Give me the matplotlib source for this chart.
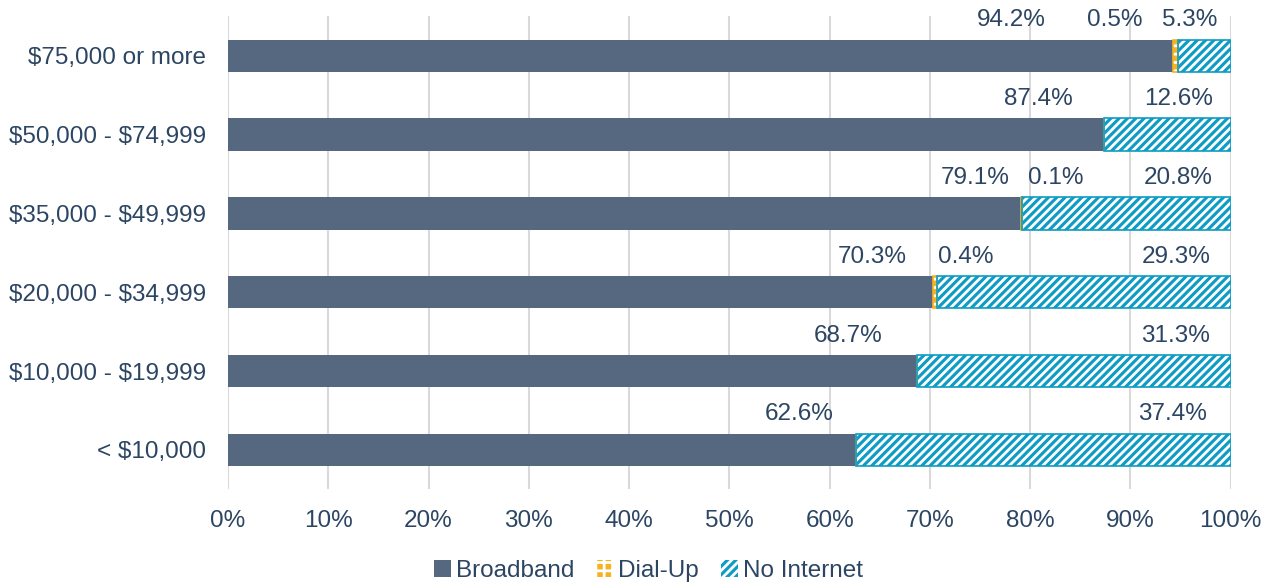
import matplotlib.pyplot as plt
import numpy as np

plt.rcParams['font.family'] = ['Liberation Sans', 'DejaVu Sans']
plt.rcParams['hatch.linewidth'] = 2.0
plt.rcParams['text.parse_math'] = False

# Household income brackets, top to bottom
categories = ["$75,000 or more", "$50,000 - $74,999", "$35,000 - $49,999",
              "$20,000 - $34,999", "$10,000 - $19,999", "< $10,000"]
broadband = [94.2, 87.4, 79.1, 70.3, 68.7, 62.6]
dial_up = [0.5, 0.0, 0.1, 0.4, 0.0, 0.0]
no_internet = [5.3, 12.6, 20.8, 29.3, 31.3, 37.4]

# Horizontal centres (in %) for the value labels above each bar
bb_label_x = [78.1, 80.8, 74.5, 64.3, 61.8, 57.0]
du_label_x = [88.4, None, 82.6, 73.6, None, None]
ni_label_x = [95.9, 94.8, 94.8, 94.6, 94.5, 94.2]

text_color = '#2B4563'
c_bb = '#56687F'
c_du = '#F5B324'
c_ni = '#0E9CC4'
fs = 17.5

fig = plt.figure(figsize=(12.74, 5.84), dpi=100)
ax = fig.add_axes([0.179, 0.162, 0.787, 0.81])

y = np.arange(len(categories))
h = 0.41
bb = np.array(broadband)
du = np.array(dial_up)
ni = np.array(no_internet)

ax.barh(y, bb, height=h, color=c_bb, linewidth=0, zorder=2)
ax.barh(y, du, left=bb, height=h, facecolor=c_du, edgecolor='white',
        hatch='++', linewidth=0, zorder=2)
ax.barh(y, du, left=bb, height=h, fill=False, edgecolor=c_du,
        linewidth=1.2, zorder=3)
ax.barh(y, ni, left=bb + du, height=h, facecolor=c_ni, edgecolor='white',
        hatch='////', linewidth=0, zorder=2)
ax.barh(y, ni, left=bb + du, height=h, fill=False, edgecolor=c_ni,
        linewidth=1.2, zorder=3)

# value labels sit above the bars
for i in range(len(categories)):
    ax.text(bb_label_x[i], y[i] - 0.45, f"{broadband[i]:.1f}%", ha='center',
            va='center', fontsize=fs, color=text_color)
    if dial_up[i] > 0:
        ax.text(du_label_x[i], y[i] - 0.45, f"{dial_up[i]:.1f}%", ha='center',
                va='center', fontsize=fs, color=text_color)
    ax.text(ni_label_x[i], y[i] - 0.45, f"{no_internet[i]:.1f}%", ha='center',
            va='center', fontsize=fs, color=text_color)

ax.set_xlim(0, 100)
ax.set_ylim(len(categories) - 0.5, -0.5)
ax.set_yticks(y)
ax.set_yticklabels(categories)
ax.set_xticks(range(0, 101, 10))
ax.set_xticklabels([f"{v}%" for v in range(0, 101, 10)])
ax.tick_params(length=0, labelsize=fs, labelcolor=text_color)
ax.tick_params(axis='y', pad=16)
ax.tick_params(axis='x', pad=15)
ax.grid(axis='x', color='#D9D9D9', linewidth=1.5, zorder=0)
ax.set_axisbelow(True)
for s in ax.spines.values():
    s.set_visible(False)

handles = [
    plt.Rectangle((0, 0), 1, 1, facecolor=c_bb, linewidth=0),
    plt.Rectangle((0, 0), 1, 1, facecolor=c_du, edgecolor='white', hatch='++', linewidth=0),
    plt.Rectangle((0, 0), 1, 1, facecolor=c_ni, edgecolor='white', hatch='////', linewidth=0),
]
leg = fig.legend(handles, ["Broadband", "Dial-Up", "No Internet"], loc='center',
                 bbox_to_anchor=(0.509, 0.022), ncol=3, frameon=False, fontsize=fs,
                 handlelength=0.7, handleheight=0.7, handletextpad=0.2,
                 columnspacing=0.9, labelcolor=text_color)

fig.savefig('out.png', dpi=100)
